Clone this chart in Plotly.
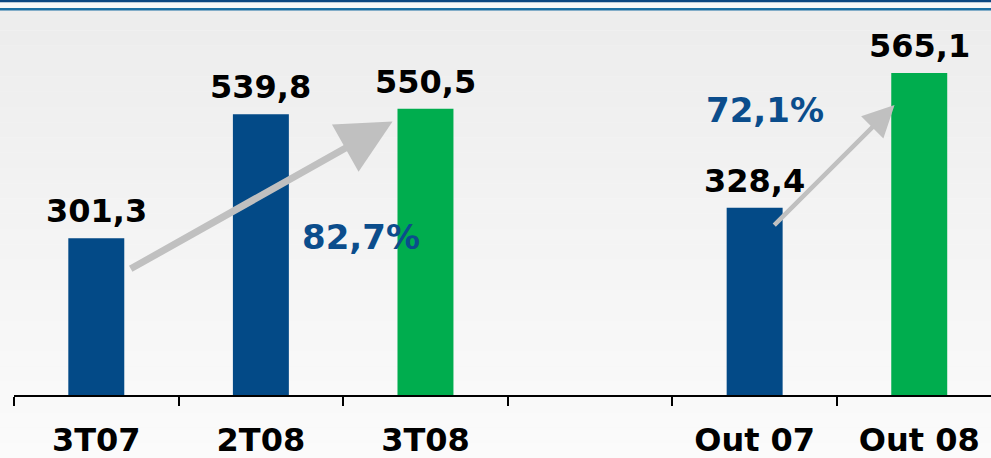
import plotly.graph_objects as go

# categories and values
quarters = ["3T07", "2T08", "3T08"]
quarter_values = [301.3, 539.8, 550.5]
months = ["Out 07", "Out 08"]
month_values = [328.4, 565.1]
gap = " "
all_cats = quarters + [gap] + months
growth_quarters = "82,7%"
growth_months = "72,1%"

blue = "#034a87"
green = "#00ad4e"
pct_blue = "#0b4d8c"
font = "DejaVu Sans, Verdana, sans-serif"


def fmt(v):
    return "{:.1f}".format(v).replace(".", ",")


fig = go.Figure()
fig.add_trace(go.Bar(x=quarters, y=quarter_values, width=0.34,
                     marker=dict(color=[blue, blue, green], line=dict(width=0)),
                     hoverinfo="skip"))
fig.add_trace(go.Bar(x=months, y=month_values, width=0.34, yaxis="y2",
                     marker=dict(color=[blue, green], line=dict(width=0)),
                     hoverinfo="skip"))

# background: light grey at the top fading to near white
shapes = []
n = 30
for i in range(n):
    c = int(0xed + (0xfb - 0xed) * i / (n - 1))
    shapes.append(dict(type="rect", xref="paper", yref="paper", layer="below",
                       x0=-0.02, x1=1.02, y0=1 - (i + 1) / n * 1.16, y1=1 - i / n * 1.16,
                       fillcolor="rgb({0},{0},{0})".format(c), line=dict(width=0)))
# the two rules along the top
shapes.append(dict(type="rect", xref="paper", yref="paper", ysizemode="pixel", yanchor=1,
                   x0=-0.02, x1=1.02, y0=0, y1=-2.5, fillcolor="#0a4680", line=dict(width=0)))
shapes.append(dict(type="rect", xref="paper", yref="paper", ysizemode="pixel", yanchor=1,
                   x0=-0.02, x1=1.02, y0=-2.5, y1=-8, fillcolor="#f7f7f7", line=dict(width=0)))
shapes.append(dict(type="rect", xref="paper", yref="paper", ysizemode="pixel", yanchor=1,
                   x0=-0.02, x1=1.02, y0=-8, y1=-10.5, fillcolor="#1b6fa3", line=dict(width=0)))

label_font = dict(size=32, color="black", family=font, weight="bold")
pct_font = dict(size=34, color=pct_blue, family=font, weight="bold")
ann = []
for c, v in zip(quarters, quarter_values):
    ann.append(dict(x=c, y=v, yref="y", text=fmt(v), showarrow=False, yanchor="bottom",
                    yshift=6, font=label_font))
for c, v in zip(months, month_values):
    ann.append(dict(x=c, y=v, yref="y2", text=fmt(v), showarrow=False, yanchor="bottom",
                    yshift=6, font=label_font))

# growth arrows, anchored to the bars they join
ann.append(dict(x=1.8, y=quarter_values[2] * 0.955, xref="x", yref="y",
                ax=0.2, ay=quarter_values[0] * 0.8, axref="x", ayref="y",
                showarrow=True, arrowhead=2, arrowsize=1.55, arrowwidth=7, arrowcolor="#c0c0c0",
                text=""))
ann.append(dict(x=4.85, y=month_values[1] * 0.9, xref="x", yref="y2",
                ax=4.11, ay=month_values[0] * 0.9, axref="x", ayref="y2",
                showarrow=True, arrowhead=2, arrowsize=1.4, arrowwidth=4.5, arrowcolor="#c0c0c0",
                text=""))

ann.append(dict(x=1.61, y=303, yref="y", text=growth_quarters, showarrow=False, font=pct_font))
ann.append(dict(x=4.06, y=500, yref="y2", text=growth_months, showarrow=False, font=pct_font))

fig.update_layout(
    width=991, height=458,
    margin=dict(l=14, r=0, t=0, b=63, autoexpand=False),
    paper_bgcolor="#f6f6f6", plot_bgcolor="rgba(0,0,0,0)",
    barmode="overlay", showlegend=False,
    shapes=shapes, annotations=ann,
    xaxis=dict(type="category", categoryorder="array", categoryarray=all_cats,
               range=[-0.5, 5.436], tickson="boundaries", ticks="outside", ticklen=9,
               tickwidth=2, tickcolor="black", showline=True, linecolor="black", linewidth=2,
               showgrid=False, zeroline=False, automargin=False, ticklabelstandoff=16,
               tickfont=label_font),
    yaxis=dict(range=[0, 395 / 0.52], visible=False, showgrid=False, zeroline=False),
    yaxis2=dict(range=[0, 395 / 0.57], overlaying="y", visible=False, showgrid=False,
                zeroline=False),
)

# the page's default 8px body margin would push the figure off the window
fig.write_html("out.html", config={"displayModeBar": False},
               post_script="document.body.style.margin='0';")
